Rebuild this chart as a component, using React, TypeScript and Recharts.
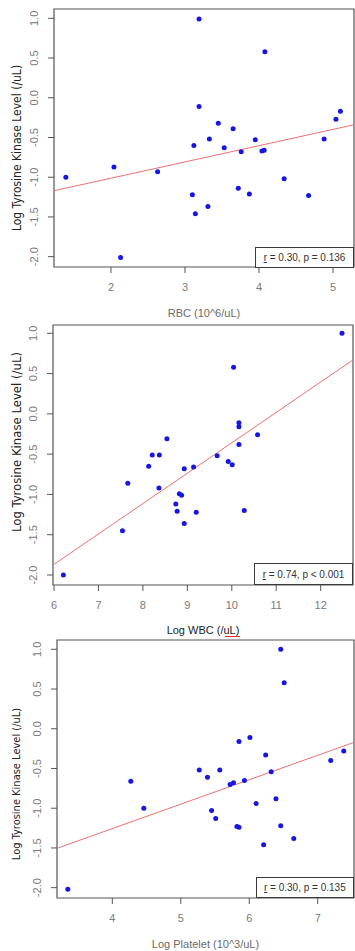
import React from 'react';
import { ScatterChart, Scatter, XAxis, YAxis, ReferenceArea, ReferenceLine } from 'recharts';

// ---- data ----
const yTicks = [-2, -1.5, -1, -0.5, 0, 0.5, 1];
const yTickLabels = ['-2.0', '-1.5', '-1.0', '-0.5', '0.0', '0.5', '1.0'];

const rbc = [1.39, 2.04, 2.13, 2.63, 3.19, 3.19, 3.12, 3.10, 3.14, 3.31, 3.33, 3.45, 3.53, 3.65, 3.76, 3.72, 3.87, 3.95, 4.04, 4.07, 4.08, 4.34, 4.67, 4.88, 5.04, 5.10];
const tkRbc = [-1.00, -0.87, -2.01, -0.93, 0.99, -0.11, -0.60, -1.22, -1.46, -1.37, -0.52, -0.32, -0.63, -0.39, -0.68, -1.14, -1.21, -0.53, -0.67, -0.66, 0.58, -1.02, -1.23, -0.52, -0.27, -0.17];
const rbcTicks = [2, 3, 4, 5];
const fitRbc = [[1.23, -1.17], [5.284, -0.34]];

const wbc = [6.21, 7.54, 7.66, 8.13, 8.21, 8.37, 8.36, 8.54, 8.74, 8.77, 8.82, 8.87, 8.93, 8.93, 9.14, 9.20, 9.67, 9.92, 10.01, 10.04, 10.16, 10.16, 10.16, 10.28, 10.58, 12.48];
const tkWbc = [-2.00, -1.45, -0.86, -0.65, -0.51, -0.51, -0.92, -0.31, -1.12, -1.21, -0.99, -1.01, -1.36, -0.68, -0.66, -1.22, -0.52, -0.59, -0.63, 0.58, -0.11, -0.16, -0.38, -1.20, -0.26, 1.00];
const wbcTicks = [6, 7, 8, 9, 10, 11, 12];
const fitWbc = [[5.977, -1.876], [12.727, 0.67]];

const plt = [3.35, 4.27, 4.46, 5.27, 5.39, 5.45, 5.51, 5.57, 5.72, 5.77, 5.82, 5.85, 5.85, 5.93, 6.01, 6.10, 6.21, 6.24, 6.32, 6.39, 6.46, 6.46, 6.51, 6.65, 7.19, 7.38];
const tkPlt = [-2.02, -0.66, -1.00, -0.52, -0.61, -1.03, -1.13, -0.52, -0.70, -0.68, -1.23, -1.24, -0.16, -0.65, -0.11, -0.94, -1.46, -0.33, -0.54, -0.88, 1.00, -1.22, 0.58, -1.38, -0.40, -0.28];
const pltTicks = [4, 5, 6, 7];
const fitPlt = [[3.192, -1.505], [7.53, -0.171]];

const yTitle = 'Log Tyrosine Kinase Level (/uL)';

// ---- styling ----
const SANS = "'Liberation Sans', Arial, sans-serif";
const NARROW = "'Liberation Sans Narrow', 'DejaVu Sans Condensed', 'Liberation Sans', sans-serif";
const TICK_GRAY = '#7a7a7a';
const DOT = '#1616e4';

const Dot = (props: any) => <circle cx={props.cx} cy={props.cy} r={2.5} fill={DOT} />;

const YTick = (props: any) => {
  const { x, y, payload } = props;
  const cx = x - 11.5;
  const idx = yTicks.indexOf(payload.value);
  return (
    <text x={cx} y={y} transform={`rotate(-90 ${cx} ${y})`} textAnchor="middle" dominantBaseline="central"
      fontFamily={SANS} fontSize={11} fill={TICK_GRAY}>
      {idx >= 0 ? yTickLabels[idx] : payload.value}
    </text>
  );
};

type PanelProps = {
  top: number; height: number; plotTop: number; plotLeft: number; rightMargin: number; xAxisHeight: number;
  xs: number[]; ys: number[]; xTicks: number[]; xDomain: [number, number]; yDomain: [number, number];
  fit: number[][]; xTitle: string; xTitleColor: string; xTitleDy: number; yTitleCy: number; yTitleSize: number;
  legend: string; legendBox: { left: number; top: number; width: number; height: number };
  underline?: { left: number; top: number; width: number };
};

const Panel = (p: PanelProps) => {
  const data = p.xs.map((x, i) => ({ x, y: p.ys[i] }));
  const XTitle = (lp: any) => {
    const vb = lp.viewBox;
    return (
      <text x={vb.x + vb.width / 2} y={vb.y + p.xTitleDy} textAnchor="middle" dominantBaseline="central"
        fontFamily={SANS} fontSize={11} fill={p.xTitleColor}>{p.xTitle}</text>
    );
  };
  const YTitle = () => {
    const cx = 16.7;
    return (
      <text x={cx} y={p.yTitleCy} transform={`rotate(-90 ${cx} ${p.yTitleCy})`} textAnchor="middle"
        dominantBaseline="central" fontFamily={NARROW} fontSize={p.yTitleSize} fill="#222">{yTitle}</text>
    );
  };
  return (
    <div style={{ position: 'absolute', left: 0, top: p.top, width: 355, height: p.height }}>
      <ScatterChart width={355} height={p.height}
        margin={{ top: p.plotTop, right: p.rightMargin, left: 0, bottom: 0 }}>
        <XAxis type="number" dataKey="x" domain={p.xDomain} ticks={p.xTicks} allowDataOverflow
          height={p.xAxisHeight} axisLine={false} tickSize={6} tickMargin={10}
          tickLine={{ stroke: '#555' }} tick={{ fill: TICK_GRAY, fontSize: 11, fontFamily: SANS }}
          label={<XTitle />} interval={0} />
        <YAxis type="number" dataKey="y" domain={p.yDomain} ticks={yTicks} allowDataOverflow
          width={p.plotLeft} axisLine={false} tickSize={6} tickMargin={2}
          tickLine={{ stroke: '#555' }} tick={<YTick />} label={<YTitle />} interval={0} />
        <ReferenceArea x1={p.xDomain[0]} x2={p.xDomain[1]} y1={p.yDomain[0]} y2={p.yDomain[1]}
          fill="none" fillOpacity={0} stroke="#555" strokeWidth={1.2} ifOverflow="visible" />
        <ReferenceLine segment={[{ x: p.fit[0][0], y: p.fit[0][1] }, { x: p.fit[1][0], y: p.fit[1][1] }]}
          stroke="#ef6f6f" strokeWidth={1} ifOverflow="visible" />
        <Scatter data={data} shape={<Dot />} isAnimationActive={false} />
      </ScatterChart>
      <div style={{
        position: 'absolute', left: p.legendBox.left, top: p.legendBox.top, width: p.legendBox.width,
        height: p.legendBox.height, boxSizing: 'border-box', border: '1.5px solid #3a3a3a', background: '#fff',
        display: 'flex', alignItems: 'center', justifyContent: 'center', fontFamily: SANS, fontSize: 10, color: '#333',
      }}>
        <span><span style={{ textDecoration: 'underline' }}>{p.legend.slice(0, 1)}</span>{p.legend.slice(1)}</span>
      </div>
      {p.underline ? (
        <div style={{ position: 'absolute', left: p.underline.left, top: p.underline.top, width: p.underline.width,
          height: 1, background: '#e03030' }} />
      ) : null}
    </div>
  );
};

export default function App() {
  return (
    <div style={{ position: 'absolute', left: 0, top: 0, width: 355, height: 951, overflow: 'hidden', background: '#fff' }}>
      <Panel top={0} height={325} plotTop={9} plotLeft={54} rightMargin={1} xAxisHeight={58}
        xs={rbc} ys={tkRbc} xTicks={rbcTicks} xDomain={[1.23, 5.284]} yDomain={[-2.13, 1.117]}
        fit={fitRbc} xTitle="RBC (10^6/uL)" xTitleColor="#6a6a6a" xTitleDy={46} yTitleCy={148} yTitleSize={12}
        legend="r = 0.30, p = 0.136" legendBox={{ left: 255, top: 247, width: 99, height: 20.5 }} />
      <Panel top={320} height={320} plotTop={5} plotLeft={53} rightMargin={2} xAxisHeight={55}
        xs={wbc} ys={tkWbc} xTicks={wbcTicks} xDomain={[5.977, 12.727]} yDomain={[-2.124, 1.103]}
        fit={fitWbc} xTitle="Log WBC (/uL)" xTitleColor="#222" xTitleDy={45} yTitleCy={122} yTitleSize={13}
        legend="r = 0.74, p < 0.001" legendBox={{ left: 254, top: 243.3, width: 99, height: 21.7 }}
        underline={{ left: 225, top: 316, width: 15 }} />
      <Panel top={630} height={321} plotTop={10} plotLeft={57} rightMargin={1} xAxisHeight={53}
        xs={plt} ys={tkPlt} xTicks={pltTicks} xDomain={[3.192, 7.53]} yDomain={[-2.13, 1.117]}
        fit={fitPlt} xTitle="Log Platelet (10^3/uL)" xTitleColor="#6a6a6a" xTitleDy={45.5} yTitleCy={154} yTitleSize={11}
        legend="r = 0.30, p = 0.135" legendBox={{ left: 255.7, top: 247.3, width: 98.3, height: 20.7 }} />
    </div>
  );
}
